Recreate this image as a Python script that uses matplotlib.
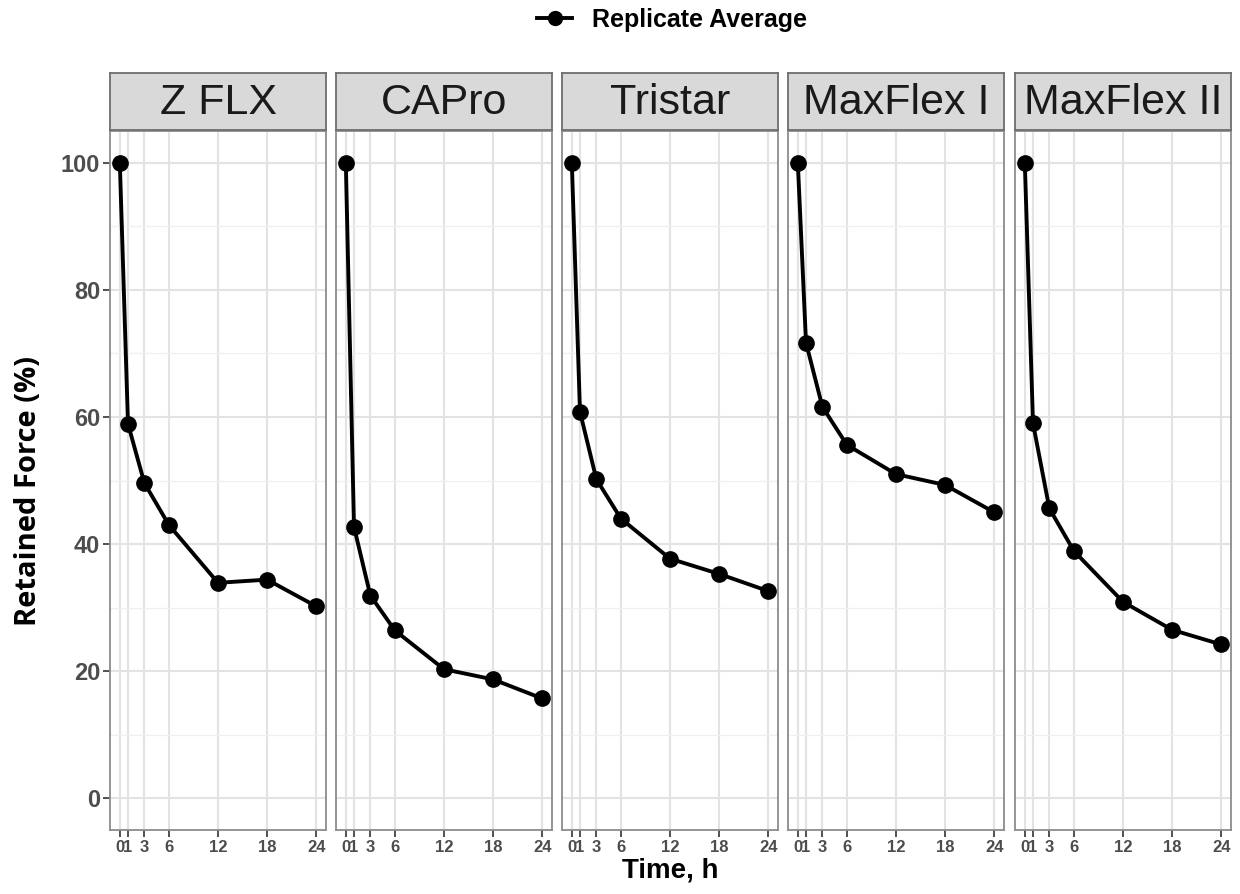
import matplotlib
matplotlib.use("Agg")
import matplotlib.pyplot as plt
from matplotlib.lines import Line2D

# ---- data ----
panels = ["Z FLX", "CAPro", "Tristar", "MaxFlex I", "MaxFlex II"]
time_h = [0, 1, 3, 6, 12, 18, 24]
zflx = [100, 58.9, 49.6, 43.0, 33.9, 34.4, 30.2]
capro = [100, 42.7, 31.9, 26.4, 20.3, 18.7, 15.7]
tristar = [100, 60.8, 50.2, 44.0, 37.7, 35.3, 32.6]
maxflex1 = [100, 71.7, 61.6, 55.6, 51.0, 49.3, 45.0]
maxflex2 = [100, 59.0, 45.6, 38.9, 30.9, 26.5, 24.2]
series = [zflx, capro, tristar, maxflex1, maxflex2]
x_ticklabels = ["0", "1", "3", "6", "12", "18", "24"]
y_ticks = [0, 20, 40, 60, 80, 100]
y_minor = [10, 30, 50, 70, 90]

W, H = 1240, 894
fig = plt.figure(figsize=(W / 100, H / 100), dpi=100)

lefts = [110, 336, 562, 788, 1015]
pw = 216
p_top, p_bot = 131, 830
s_top, s_bot = 73, 130

border = "#8c8c8c"
for i, (name, vals) in enumerate(zip(panels, series)):
    l = lefts[i]
    ax = fig.add_axes([l / W, (H - p_bot) / H, pw / W, (p_bot - p_top) / H])
    ax.set_xlim(-1.2, 25.2)
    ax.set_ylim(-5, 105)
    ax.set_xticks(time_h)
    ax.set_xticklabels(x_ticklabels)
    ax.set_yticks(y_ticks)
    ax.set_yticks(y_minor, minor=True)
    ax.grid(True, which="major", color="#e3e3e3", linewidth=1.5, zorder=0)
    ax.grid(True, which="minor", axis="y", color="#f0f0f0", linewidth=1.0, zorder=0)
    ax.tick_params(axis="y", which="minor", length=0)
    ax.tick_params(axis="x", which="major", length=5, width=1.2, color="#333333",
                   labelsize=12, labelcolor="#4d4d4d", pad=2)
    ax.tick_params(axis="y", which="major", length=5, width=1.2, color="#333333",
                   labelsize=17, labelcolor="#4d4d4d", pad=2)
    for lab in ax.get_xticklabels() + ax.get_yticklabels():
        lab.set_fontweight("bold")
        lab.set_family("Liberation Sans")
    if i > 0:
        ax.tick_params(axis="y", labelleft=False, length=0)
    for sp in ax.spines.values():
        sp.set_color(border)
        sp.set_linewidth(1.3)
    ax.plot(time_h, vals, color="black", linewidth=2.8, marker="o",
            markersize=11, zorder=3, clip_on=False)

    sax = fig.add_axes([l / W, (H - s_bot) / H, pw / W, (s_bot - s_top) / H])
    sax.set_facecolor("#d9d9d9")
    sax.set_xticks([])
    sax.set_yticks([])
    for sp in sax.spines.values():
        sp.set_color("#6e6e6e")
        sp.set_linewidth(1.3)
    sax.text(0.5, 0.47, name, ha="center", va="center", fontsize=31,
             family="Liberation Sans", color="#1a1a1a", transform=sax.transAxes)

fig.text(29 / W, (H - 491) / H, "Retained Force (%)", rotation=90,
         ha="center", va="center", fontsize=21, fontweight="bold",
         family="Open Sans")
fig.text(670 / W, (H - 871) / H, "Time, h", ha="center", va="center",
         fontsize=20, fontweight="bold", family="Liberation Sans")

handle = Line2D([], [], color="black", linewidth=2.8, marker="o", markersize=10)
fig.legend([handle], ["Replicate Average"], loc="center",
           bbox_to_anchor=(672 / W, (H - 20) / H), frameon=False,
           prop={"family": "Liberation Sans", "weight": "bold", "size": 18},
           handlelength=1.4, handletextpad=0.8)

fig.savefig("out.png", dpi=100, facecolor="white")
